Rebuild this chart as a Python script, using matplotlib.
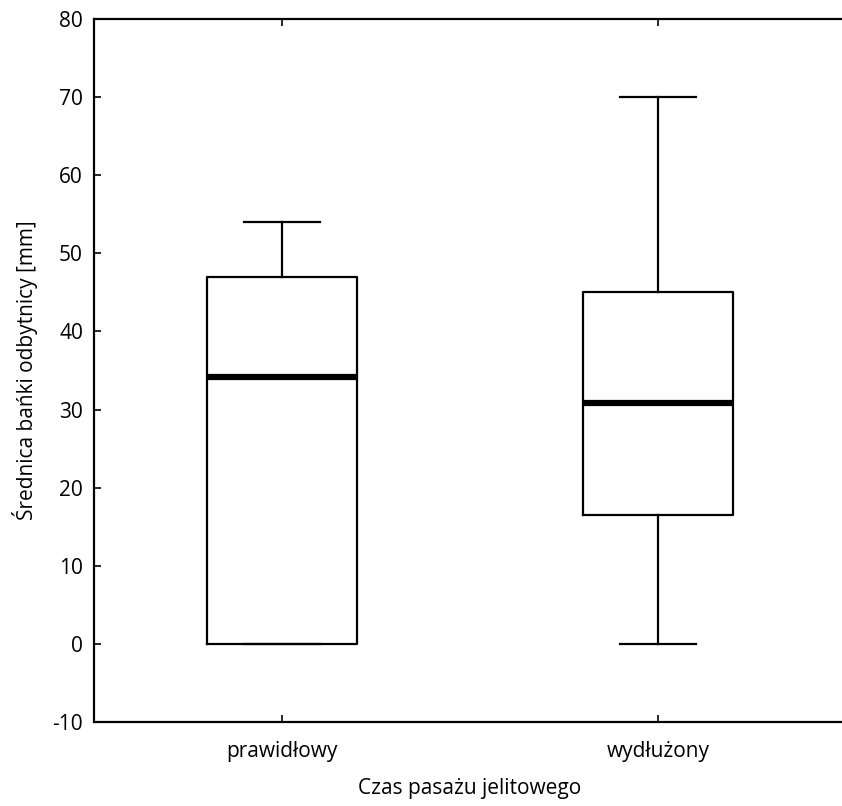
import matplotlib.pyplot as plt

# box plot summary
groups = ["prawidłowy", "wydłużony"]
whislo = [0, 0]
q1 = [0, 16.5]
med = [34.2, 30.9]
q3 = [47, 45]
whishi = [54, 70]

plt.rcParams['font.family'] = ['Open Sans', 'DejaVu Sans']
plt.rcParams['axes.unicode_minus'] = False

fig = plt.figure(figsize=(8.42, 8.06), dpi=100)
ax = fig.add_axes([94 / 842, 1 - 722 / 806, 752 / 842, 703 / 806])

stats = []
for i, g in enumerate(groups):
    stats.append({"label": g, "whislo": whislo[i], "q1": q1[i], "med": med[i],
                  "q3": q3[i], "whishi": whishi[i], "fliers": []})

ax.bxp(stats, positions=[1, 2], widths=0.4, showfliers=False,
       boxprops=dict(color='black', linewidth=1.6),
       whiskerprops=dict(color='black', linewidth=1.6),
       capprops=dict(color='black', linewidth=1.6),
       medianprops=dict(color='black', linewidth=4.5, solid_capstyle='butt'),
       capwidths=0.2)

ax.set_xlim(0.5, 2.5)
ax.set_ylim(-10, 80)
ax.set_yticks(range(-10, 81, 10))
ax.set_xticks([1, 2])
ax.set_xticklabels(groups)
ax.tick_params(direction='in', top=True, right=False, length=5, width=1.2,
               labelsize=15, pad=8)
ax.tick_params(axis='x', pad=14)
for s in ax.spines.values():
    s.set_linewidth(1.6)
ax.spines['right'].set_visible(False)

ax.set_ylabel("Średnica bańki odbytnicy [mm]", fontsize=15, labelpad=10)
ax.set_xlabel("Czas pasażu jelitowego", fontsize=15, labelpad=11)

fig.savefig("out.png", dpi=100)
